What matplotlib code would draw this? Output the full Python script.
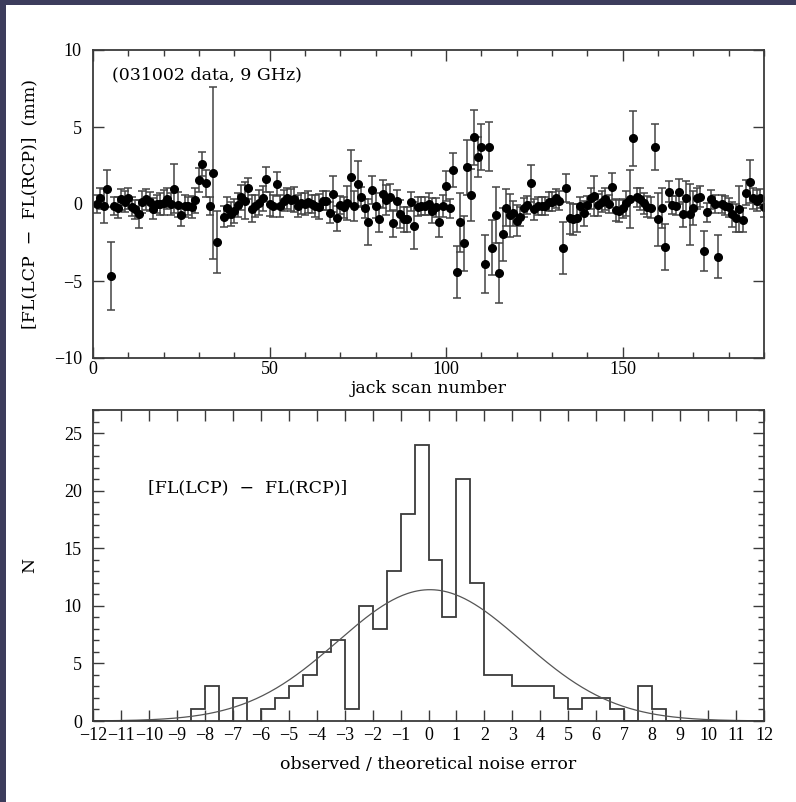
import numpy as np
import matplotlib
matplotlib.use("Agg")
import matplotlib.pyplot as plt
from matplotlib.patches import Rectangle

plt.rcParams['font.family'] = ['Liberation Serif', 'DejaVu Serif']
plt.rcParams['font.size'] = 13

# top panel: jack scan number, FL(LCP) - FL(RCP) in mm, 1-sigma error
scan = [1, 2, 3, 4, 5, 6, 7, 8, 9, 10, 11, 12, 13, 14, 15, 16, 17, 18, 19, 20,
        21, 22, 23, 24, 25, 26, 27, 28, 29, 30, 31, 32, 33, 34, 35, 37, 38, 39, 40,
        41, 42, 43, 44, 45, 46, 47, 48, 49, 50, 51, 52, 53, 54, 55, 56, 57, 58, 59, 60,
        61, 62, 63, 64, 65, 66, 67, 68, 69, 70, 71, 72, 73, 74, 75, 76, 77, 78, 79, 80,
        81, 82, 83, 84, 85, 86, 87, 88, 89, 90, 91, 92, 93, 94, 95, 96, 97, 98, 99, 100,
        101, 102, 103, 104, 105, 106, 107, 108, 109, 110, 111, 112, 113, 114, 115, 116, 117, 118, 119, 120,
        121, 122, 123, 124, 125, 126, 127, 128, 129, 130, 131, 132, 133, 134, 135, 136, 137, 138, 139, 140,
        141, 142, 143, 144, 145, 146, 147, 148, 149, 150, 151, 152, 153, 154, 155, 156, 157, 158, 159, 160,
        161, 162, 163, 164, 165, 166, 167, 168, 169, 170, 171, 172, 173, 174, 175, 176, 177, 178, 179, 180,
        181, 182, 183, 184, 185, 186, 187, 188, 189, 190]
diff = [0.0, 0.37, -0.13, 1.0, -4.68, -0.13, -0.24, 0.3, 0.15, 0.37, -0.17, -0.35, -0.65, 0.13, 0.3, 0.15, -0.3, 0.0, 0.0, 0.09,
        0.35, 0.0, 1.0, -0.04, -0.7, -0.13, -0.13, -0.2, 0.24, 1.56, 2.6, 1.34, -0.13, 2.0, -2.45, -0.82, -0.24, -0.65, -0.45,
        -0.06, 0.43, 0.22, 1.02, -0.3, -0.13, 0.09, 0.37, 1.6, 0.0, -0.13, 1.3, -0.13, 0.22, 0.37, 0.26, 0.3, -0.13, 0.04, 0.0,
        0.13, 0.0, -0.13, -0.17, 0.22, 0.22, -0.56, 0.65, -0.93, -0.06, -0.22, 0.09, 1.77, -0.13, 1.28, 0.48, -0.28, -1.15, 0.9, -0.1,
        -1.0, 0.65, 0.26, 0.43, -1.26, 0.22, -0.67, -1.0, -1.0, 0.15, -1.4, -0.17, -0.13, -0.13, 0.0, -0.43, -0.22, -1.15, -0.13, 1.17,
        -0.28, 2.2, -4.4, -1.2, -2.55, 2.38, 0.6, 4.33, 3.03, 3.72, -3.9, 3.72, -2.84, -0.7, -4.5, -1.97, -0.24, -0.74, -0.6, -1.08,
        -0.82, -0.24, -0.06, 1.34, -0.35, -0.13, -0.13, -0.13, 0.15, 0.15, 0.37, 0.22, -2.84, 1.02, -0.93, -1.0, -0.93, -0.13, -0.6, -0.06,
        0.37, 0.54, -0.06, 0.15, 0.32, 0.0, 1.13, -0.39, -0.45, -0.28, 0.04, 0.32, 4.26, 0.43, 0.32, 0.04, -0.17, -0.24, 3.68, -1.0,
        -0.28, -2.77, 0.8, -0.06, -0.1, 0.8, -0.67, 0.37, -0.67, -0.24, 0.37, 0.48, -3.03, -0.54, 0.3, 0.0, -3.42, 0.0, -0.1, -0.22,
        -0.67, -0.89, -0.35, -1.04, 0.74, 1.45, 0.37, 0.22, 0.37, -0.22]
err = [0.6, 0.7, 1.1, 1.2, 2.2, 0.6, 0.7, 0.7, 0.7, 0.7, 0.6, 0.6, 0.9, 0.7, 0.7, 0.6, 0.7, 0.6, 0.7, 0.8,
       0.7, 0.7, 1.6, 0.8, 0.7, 0.7, 0.6, 0.7, 0.8, 0.8, 0.8, 0.9, 0.6, 5.6, 2.0, 0.7, 0.7, 0.8, 0.8,
       0.8, 0.8, 1.2, 0.7, 0.9, 0.7, 0.8, 0.8, 0.8, 0.8, 0.7, 0.8, 0.7, 0.7, 0.7, 0.7, 0.8, 0.7, 0.7, 0.7,
       0.7, 0.6, 0.7, 0.8, 0.6, 0.6, 0.7, 1.2, 0.8, 0.6, 0.7, 1.1, 1.75, 1.0, 1.5, 0.6, 0.6, 1.5, 0.9, 0.8,
       0.8, 0.9, 1.0, 0.9, 0.9, 0.7, 0.9, 0.8, 0.8, 0.6, 1.5, 0.6, 0.6, 0.6, 0.7, 0.8, 0.6, 1.0, 0.7, 1.0,
       0.6, 1.1, 1.7, 1.9, 1.8, 1.8, 1.7, 1.8, 1.3, 1.5, 1.9, 1.6, 1.8, 1.8, 1.95, 1.7, 1.2, 1.4, 0.8, 1.0,
       0.6, 0.6, 0.6, 1.2, 0.7, 0.6, 0.6, 0.6, 0.6, 0.6, 0.6, 0.6, 1.7, 0.9, 1.0, 1.0, 0.9, 0.6, 0.8, 0.6,
       0.7, 1.3, 0.7, 0.7, 0.7, 0.6, 0.9, 0.7, 0.7, 0.6, 0.8, 1.9, 1.8, 0.6, 0.7, 0.7, 0.7, 0.7, 1.5, 1.7,
       1.3, 1.5, 0.7, 0.6, 0.6, 0.8, 0.8, 1.1, 2.0, 1.1, 0.7, 0.7, 1.3, 0.6, 0.6, 0.6, 1.4, 0.6, 0.6, 0.6,
       0.8, 0.9, 1.5, 0.8, 0.8, 1.4, 0.7, 0.7, 0.6, 0.6]

# bottom panel: histogram of observed / theoretical noise error, 0.5 wide bins
bin_edges = np.arange(-12, 12.01, 0.5)
counts = [0, 0, 0, 0, 0, 0, 0,
          1, 3, 0, 2, 0, 1, 2, 3, 4, 6, 7, 1, 10, 8, 13, 18, 24,
          14, 9, 21, 12, 4, 4, 3, 3, 3, 2, 1, 2, 2, 1, 0, 3, 1,
          0, 0, 0, 0, 0, 0, 0]
gauss_amp = 11.4
gauss_mean = 0.05
gauss_sigma = 3.3

line_col = '#3a3a3a'
label_font = dict(family='DejaVu Serif', size=12.5)

fig = plt.figure(figsize=(7.96, 8.02), dpi=100)
fig.patch.set_facecolor('white')
# dark slide border on left and top
fig.patches.append(Rectangle((0, 0), 6 / 796, 1, transform=fig.transFigure,
                             facecolor='#3c3c5c', edgecolor='none', zorder=0))
fig.patches.append(Rectangle((0, 1 - 5 / 802), 1, 5 / 802, transform=fig.transFigure,
                             facecolor='#3c3c5c', edgecolor='none', zorder=0))

ax1 = fig.add_axes([93 / 796, 1 - 358 / 802, 671 / 796, 308 / 802])
ax2 = fig.add_axes([93 / 796, 1 - 721 / 802, 671 / 796, 311 / 802])

for ax in (ax1, ax2):
    for s in ax.spines.values():
        s.set_color(line_col)
        s.set_linewidth(1.3)
    ax.tick_params(which='both', direction='in', top=True, right=True,
                   color=line_col, width=1.0)
    ax.tick_params(which='major', length=8)
    ax.tick_params(which='minor', length=4)

# top panel
ax1.errorbar(scan, diff, yerr=err, fmt='o', color='black', ms=5.5,
             ecolor='#444444', elinewidth=1.1, capsize=2.8, capthick=1.1)
ax1.set_xlim(0, 190)
ax1.set_ylim(-10, 10)
ax1.set_xticks([0, 50, 100, 150])
ax1.set_xticks(np.arange(0, 191, 10), minor=True)
ax1.set_yticks([-10, -5, 0, 5, 10])
ax1.tick_params(axis='x', pad=2)
ax1.tick_params(axis='y', pad=8)
ax1.set_xlabel('jack scan number', va='center', **label_font)
ax1.xaxis.set_label_coords(0.5, -0.099)
ax1.set_ylabel('[FL(LCP  \u2212  FL(RCP)]  (mm)', va='center', **label_font)
ax1.yaxis.set_label_coords(-0.094, 0.5)
ax1.text(0.028, 0.919, '(031002 data, 9 GHz)', transform=ax1.transAxes,
         va='center', ha='left', **label_font)

# bottom panel
ax2.stairs(counts, bin_edges, color=line_col, linewidth=1.3)
xg = np.linspace(-12, 12, 400)
ax2.plot(xg, gauss_amp * np.exp(-0.5 * ((xg - gauss_mean) / gauss_sigma) ** 2),
         color='#555555', linewidth=0.9)
ax2.set_xlim(-12, 12)
ax2.set_ylim(0, 27)
ax2.set_xticks(np.arange(-12, 13, 1))
ax2.set_yticks([0, 5, 10, 15, 20, 25])
ax2.set_yticks(np.arange(0, 28, 1), minor=True)
ax2.tick_params(axis='x', pad=4)
ax2.tick_params(axis='y', pad=8)
ax2.set_xlabel('observed / theoretical noise error', va='center', **label_font)
ax2.xaxis.set_label_coords(0.5, -0.141)
ax2.set_ylabel('N', va='center', **label_font)
ax2.yaxis.set_label_coords(-0.094, 0.5)
ax2.text(0.082, 0.749, '[FL(LCP)  \u2212  FL(RCP)]', transform=ax2.transAxes,
         va='center', ha='left', **label_font)

fig.savefig('out.png', dpi=100)
